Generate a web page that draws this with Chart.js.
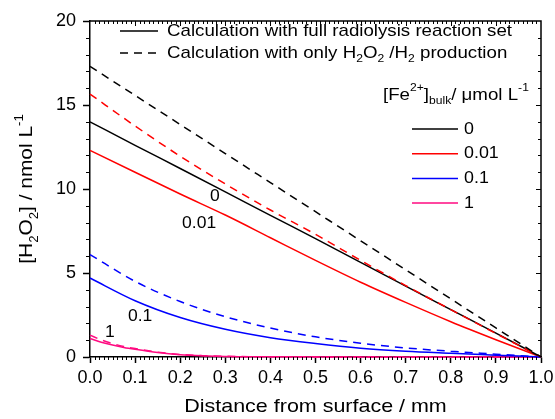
<!DOCTYPE html>
<html>
<head>
<meta charset="utf-8">
<script src="https://cdn.jsdelivr.net/npm/chart.js@4.4.1/dist/chart.umd.min.js"></script>
<style>
  html, body { margin: 0; padding: 0; background: #fff; }
  #wrap { width: 555px; height: 419px; }
</style>
</head>
<body>
<div id="wrap"><canvas id="chart" width="555" height="419"></canvas></div>
<script>
// Distance from surface (mm)
const distance = [0, 0.1, 0.2, 0.3, 0.4, 0.5, 0.6, 0.7, 0.8, 0.9, 1.0];
const distanceFine = [0, 0.025, 0.05, 0.075, 0.1, 0.15, 0.2, 0.25, 0.3, 0.4, 0.6, 0.8, 1.0];

// [Fe2+]bulk levels, umol/L
const feLevels = ["0", "0.01", "0.1", "1"];
const feColors = ["#000000", "#ff0000", "#0000ff", "#ff0a80"];

// Full radiolysis reaction set (solid lines), nmol/L
const full0 = [14.0, 12.6, 11.22, 9.83, 8.43, 7.05, 5.63, 4.22, 2.82, 1.42, 0];
const full001 = [12.3, 11.0, 9.7, 8.45, 7.1, 5.75, 4.45, 3.25, 2.1, 1.03, 0];
const full01 = [4.7, 3.35, 2.35, 1.65, 1.15, 0.8, 0.52, 0.34, 0.22, 0.11, 0];
const full1 = [1.1, 0.88, 0.71, 0.57, 0.46, 0.27, 0.14, 0.07, 0.03, 0.01, 0, 0, 0];

// Only H2O2/H2 production (dashed lines), nmol/L
const only0 = [17.3, 15.57, 13.84, 12.11, 10.38, 8.65, 6.92, 5.19, 3.46, 1.73, 0];
const only001 = [15.65, 13.75, 11.95, 10.3, 8.75, 7.3, 5.75, 4.25, 2.82, 1.4, 0];
const only01 = [6.1, 4.5, 3.3, 2.4, 1.72, 1.2, 0.82, 0.54, 0.34, 0.17, 0];
const only1 = [1.3, 1.02, 0.8, 0.63, 0.5, 0.29, 0.15, 0.08, 0.04, 0.015, 0.005, 0, 0];

// Curve labels: [text, x, y] in data units
const curveLabels = [["0", 0.277, 9.58], ["0.01", 0.242, 7.98], ["0.1", 0.111, 2.44], ["1", 0.044, 1.49]];

const FONT = '"Liberation Sans", Arial, sans-serif';

function toPoints(xs, ys) {
  return xs.map((x, i) => ({ x: x, y: ys[i] }));
}

function makeSet(xs, ys, color, dashed) {
  return {
    data: toPoints(xs, ys),
    borderColor: color,
    borderWidth: 1.5,
    borderDash: dashed ? [8, 6] : [],
    pointRadius: 0,
    cubicInterpolationMode: "monotone",
    fill: false,
    clip: false,
  };
}

// draws text with sub/superscripts (slightly stretched), returns width
function richText(ctx, x, y, parts, size, sx, dry) {
  let cx = x;
  parts.forEach(([t, m]) => {
    const fs = m === "n" ? size : Math.round(size * 0.65);
    ctx.font = fs + "px " + FONT;
    const dy = m === "sub" ? size * 0.38 : m === "sup" ? -size * 0.4 : 0;
    if (!dry) {
      ctx.save();
      ctx.translate(cx, y + dy);
      ctx.scale(sx, 1);
      ctx.fillText(t, 0, 0);
      ctx.restore();
    }
    cx += ctx.measureText(t).width * sx;
  });
  return cx - x;
}

function centerText(ctx, x, y, parts, size, sx) {
  const w = richText(ctx, 0, 0, parts, size, sx, true);
  richText(ctx, x - w / 2, y, parts, size, sx);
}

const decorPlugin = {
  id: "decor",
  afterDraw(chart) {
    const ctx = chart.ctx;
    const xs = chart.scales.x;
    const ys = chart.scales.y;
    const a = chart.chartArea;
    ctx.save();
    ctx.strokeStyle = "#000";
    ctx.fillStyle = "#000";

    // top and right frame
    ctx.lineWidth = 1.5;
    ctx.beginPath();
    ctx.moveTo(a.left, a.top);
    ctx.lineTo(a.right, a.top);
    ctx.lineTo(a.right, a.bottom);
    ctx.stroke();

    // minor ticks
    ctx.lineWidth = 1;
    ctx.beginPath();
    for (let i = 1; i < 100; i++) {
      const px = Math.round(xs.getPixelForValue(i / 100)) + 0.5;
      if (i % 10 !== 0) {
        ctx.moveTo(px, a.bottom);
        ctx.lineTo(px, a.bottom + 3);
        ctx.moveTo(px, a.top);
        ctx.lineTo(px, a.top + 3);
      } else {
        ctx.moveTo(px, a.top);
        ctx.lineTo(px, a.top + 5);
      }
    }
    for (let v = 1; v < 20; v++) {
      const py = Math.round(ys.getPixelForValue(v)) + 0.5;
      if (v % 5 !== 0) {
        ctx.moveTo(a.left, py);
        ctx.lineTo(a.left - 4, py);
      }
      ctx.moveTo(a.right, py);
      ctx.lineTo(a.right - (v % 5 === 0 ? 5 : 3), py);
    }
    ctx.stroke();

    // curve labels
    ctx.textBaseline = "middle";
    ctx.textAlign = "left";
    curveLabels.forEach(([t, x, y]) => {
      centerText(ctx, xs.getPixelForValue(x), ys.getPixelForValue(y), [[t, "n"]], 17, 1.03);
    });

    // top legend
    ctx.lineWidth = 1.5;
    ctx.beginPath();
    ctx.moveTo(120, 31);
    ctx.lineTo(158, 31);
    ctx.stroke();
    ctx.setLineDash([8, 6]);
    ctx.beginPath();
    ctx.moveTo(120, 53);
    ctx.lineTo(160, 53);
    ctx.stroke();
    ctx.setLineDash([]);
    richText(ctx, 167, 31, [["Calculation with full radiolysis reaction set", "n"]], 17, 1.1);
    richText(ctx, 167, 53, [["Calculation with only H", "n"], ["2", "sub"], ["O", "n"], ["2", "sub"], [" /H", "n"], ["2", "sub"], [" production", "n"]], 17, 1.1);

    // Fe legend
    richText(ctx, 383, 95, [["[Fe", "n"], ["2+", "sup"], ["]", "n"], ["bulk", "sub"], ["/ \u03bcmol L", "n"], ["-1", "sup"]], 17, 1.1);
    feLevels.forEach((lab, i) => {
      const y = 129 + i * 24.7;
      ctx.strokeStyle = feColors[i];
      ctx.beginPath();
      ctx.moveTo(412, y);
      ctx.lineTo(458, y);
      ctx.stroke();
      richText(ctx, 464, y, [[lab, "n"]], 17, 1.05);
    });

    // axis titles
    centerText(ctx, (a.left + a.right) / 2, 407, [["Distance from surface / mm", "n"]], 19, 1.13);

    const yParts = [["[H", "n"], ["2", "sub"], ["O", "n"], ["2", "sub"], ["] / nmol L", "n"], ["-1", "sup"]];
    ctx.translate(27, (a.top + a.bottom) / 2);
    ctx.rotate(-Math.PI / 2);
    centerText(ctx, 0, 0, yParts, 19, 1.1);
    ctx.restore();
  },
};

const ctx = document.getElementById("chart").getContext("2d");
new Chart(ctx, {
  type: "line",
  data: {
    datasets: [
      makeSet(distance, only0, feColors[0], true),
      makeSet(distance, only001, feColors[1], true),
      makeSet(distance, only01, feColors[2], true),
      makeSet(distance, full0, feColors[0], false),
      makeSet(distance, full001, feColors[1], false),
      makeSet(distance, full01, feColors[2], false),
      makeSet(distanceFine, only1, feColors[3], true),
      makeSet(distanceFine, full1, feColors[3], false),
    ],
  },
  options: {
    responsive: false,
    animation: false,
    layout: { padding: { top: 21, right: 14, left: 0, bottom: 0 } },
    plugins: { legend: { display: false }, tooltip: { enabled: false } },
    scales: {
      x: {
        type: "linear",
        min: 0,
        max: 1,
        afterFit: (s) => { s.height = 62; s.paddingLeft = 0; s.paddingRight = 0; },
        ticks: {
          stepSize: 0.1,
          callback: (v) => v.toFixed(1),
          color: "#000",
          font: { size: 18, family: FONT },
          padding: 4,
          maxRotation: 0,
        },
        grid: { drawOnChartArea: false, tickLength: 6, tickWidth: 1.5, tickColor: "#000" },
        border: { color: "#000", width: 1.5 },
      },
      y: {
        min: 0,
        max: 20,
        afterFit: (s) => { s.width = 90; s.paddingTop = 0; s.paddingBottom = 0; },
        ticks: {
          stepSize: 5,
          color: "#000",
          font: { size: 18, family: FONT },
          padding: 7,
        },
        grid: { drawOnChartArea: false, tickLength: 7, tickWidth: 1.5, tickColor: "#000" },
        border: { color: "#000", width: 1.5 },
      },
    },
  },
  plugins: [decorPlugin],
});
</script>
</body>
</html>
